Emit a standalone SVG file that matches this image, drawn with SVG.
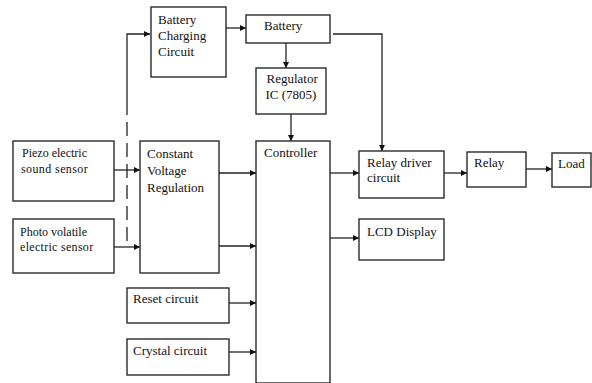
<svg xmlns="http://www.w3.org/2000/svg" width="592" height="383" viewBox="0 0 592 383">
<style>
.box{fill:#fff;stroke:#2a2a2a;stroke-width:1.4}
.t{font-family:"Liberation Serif","Times New Roman",serif;font-size:13px;fill:#111}
.s{font-size:12px}
.c{fill:none;stroke:#222;stroke-width:1.3}
</style>
<defs>
<marker id="a" viewBox="0 0 10 10" refX="10" refY="5" markerWidth="7" markerHeight="6" markerUnits="userSpaceOnUse" orient="auto"><path d="M0,0L10,5L0,10z" fill="#111"/></marker>
</defs>
<rect width="592" height="383" fill="#fff"/>
<g id="connectors">
<path class="c" d="M127,115V34H150" marker-end="url(#a)"/>
<path class="c" d="M127,122V247" stroke-dasharray="14 7"/>
<path class="c" d="M226,28H246" marker-end="url(#a)"/>
<path class="c" d="M286,43V68" marker-end="url(#a)"/>
<path class="c" d="M291,114V141" marker-end="url(#a)"/>
<path class="c" d="M333,34H382V151" marker-end="url(#a)"/>
<path class="c" d="M114,170H140" marker-end="url(#a)"/>
<path class="c" d="M114,247H140" marker-end="url(#a)"/>
<path class="c" d="M219,173H256" marker-end="url(#a)"/>
<path class="c" d="M219,246H256" marker-end="url(#a)"/>
<path class="c" d="M330,173H359" marker-end="url(#a)"/>
<path class="c" d="M444,173H467" marker-end="url(#a)"/>
<path class="c" d="M526,169H552" marker-end="url(#a)"/>
<path class="c" d="M330,238H359" marker-end="url(#a)"/>
<path class="c" d="M229,303H256" marker-end="url(#a)"/>
<path class="c" d="M229,352H256" marker-end="url(#a)"/>
</g>
<g id="bcc"><rect class="box" x="151" y="7" width="75" height="70"/>
<text class="t" x="158" y="24">Battery</text><text class="t" x="158" y="40">Charging</text><text class="t" x="158" y="56">Circuit</text></g>
<g id="battery"><rect class="box" x="246" y="15" width="84" height="28"/><text class="t" x="264" y="30">Battery</text></g>
<g id="regulator"><rect class="box" x="256" y="68" width="70" height="46"/>
<text class="t" x="266.5" y="83">Regulator</text><text class="t" x="265.5" y="99">IC (7805)</text></g>
<g id="piezo"><rect class="box" x="13" y="141" width="101" height="60"/>
<text class="t s" x="22" y="157">Piezo electric</text><text class="t s" x="21" y="173" letter-spacing="0.4">sound sensor</text></g>
<g id="photo"><rect class="box" x="13" y="219" width="101" height="54"/>
<text class="t s" x="20" y="236">Photo volatile</text><text class="t s" x="20" y="251" letter-spacing="0.3">electric sensor</text></g>
<g id="cvr"><rect class="box" x="140" y="141" width="79" height="132"/>
<text class="t" x="147" y="158">Constant</text><text class="t" x="147" y="175">Voltage</text><text class="t" x="147" y="192">Regulation</text></g>
<g id="controller"><rect class="box" x="256" y="141" width="74" height="242"/><text class="t" x="264" y="157">Controller</text></g>
<g id="relaydriver"><rect class="box" x="359" y="151" width="85" height="47"/>
<text class="t" x="367" y="167">Relay driver</text><text class="t" x="367" y="182">circuit</text></g>
<g id="relay"><rect class="box" x="467" y="152" width="59" height="35"/><text class="t" x="474" y="167">Relay</text></g>
<g id="load"><rect class="box" x="552" y="153" width="39" height="34"/><text class="t" x="558" y="168">Load</text></g>
<g id="lcd"><rect class="box" x="359" y="219" width="85" height="41"/><text class="t" x="367" y="236">LCD Display</text></g>
<g id="reset"><rect class="box" x="127" y="288" width="102" height="35"/><text class="t" x="133" y="303">Reset circuit</text></g>
<g id="crystal"><rect class="box" x="127" y="339" width="102" height="36"/><text class="t" x="133" y="355">Crystal circuit</text></g>
</svg>
